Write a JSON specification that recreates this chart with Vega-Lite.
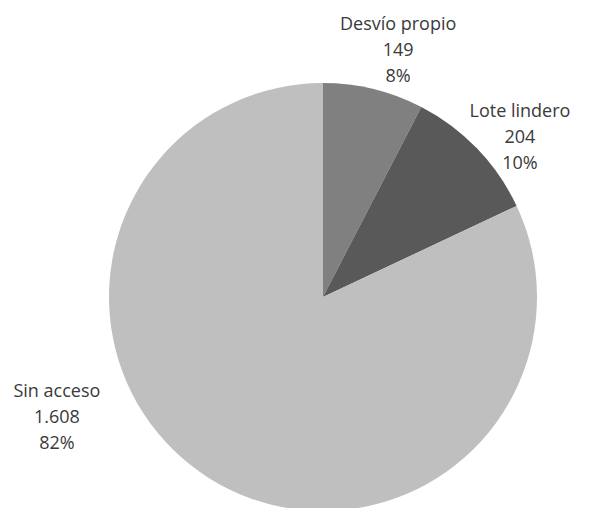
{
  "$schema": "https://vega.github.io/schema/vega-lite/v6.json",
  "width": 646,
  "height": 594,
  "autosize": "none",
  "padding": 0,
  "background": "white",
  "view": {"stroke": null},
  "data": {"values": [
    {"category": "Desvío propio", "value": 149, "label": "149", "pct": "8%", "ord": 1},
    {"category": "Lote lindero", "value": 204, "label": "204", "pct": "10%", "ord": 2},
    {"category": "Sin acceso", "value": 1608, "label": "1.608", "pct": "82%", "ord": 3}
  ]},
  "transform": [
    {"calculate": "datum.category + '\\n' + datum.label + '\\n' + datum.pct", "as": "txt"},
    {"stack": "value", "groupby": [], "sort": [{"field": "ord", "order": "ascending"}], "as": ["v0", "v1"]},
    {"calculate": "(datum.v0 + datum.v1) / 2", "as": "mid"}
  ],
  "layer": [
    {
      "mark": {"type": "arc", "outerRadius": 214, "stroke": null},
      "encoding": {
        "theta": {"field": "v1", "type": "quantitative", "stack": null, "scale": {"zero": true, "nice": false}},
        "theta2": {"field": "v0"},
        "color": {
          "field": "category", "type": "nominal",
          "scale": {"domain": ["Desvío propio", "Lote lindero", "Sin acceso"], "range": ["#808080", "#595959", "#bfbfbf"]},
          "legend": null
        }
      }
    },
    {
      "transform": [{"filter": "datum.category == 'Desvío propio'"}],
      "mark": {"type": "text", "radius": 284, "dx": 8, "dy": 4, "font": "Open Sans", "fontSize": 18, "lineHeight": 26, "align": "center", "baseline": "middle", "lineBreak": "\n", "color": "#3a3a3a"},
      "encoding": {"theta": {"field": "mid", "type": "quantitative", "stack": null}, "text": {"field": "txt"}}
    },
    {
      "transform": [{"filter": "datum.category == 'Lote lindero'"}],
      "mark": {"type": "text", "radius": 272, "dx": 1, "dy": 4, "font": "Open Sans", "fontSize": 18, "lineHeight": 26, "align": "center", "baseline": "middle", "lineBreak": "\n", "color": "#3a3a3a"},
      "encoding": {"theta": {"field": "mid", "type": "quantitative", "stack": null}, "text": {"field": "txt"}}
    },
    {
      "transform": [{"filter": "datum.category == 'Sin acceso'"}],
      "mark": {"type": "text", "radius": 282, "dx": -115, "dy": -143, "font": "Open Sans", "fontSize": 18, "lineHeight": 26, "align": "center", "baseline": "middle", "lineBreak": "\n", "color": "#3a3a3a"},
      "encoding": {"theta": {"field": "mid", "type": "quantitative", "stack": null}, "text": {"field": "txt"}}
    }
  ]
}
